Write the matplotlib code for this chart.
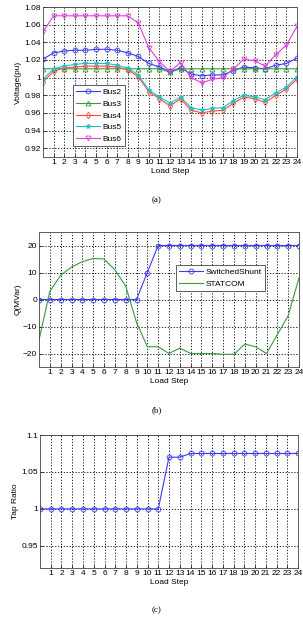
import numpy as np
import matplotlib.pyplot as plt

# Load steps
steps = np.arange(25)

# (a) bus voltages (pu)
bus2 = [1.021, 1.028, 1.030, 1.031, 1.031, 1.032, 1.032, 1.031, 1.028, 1.024, 1.016, 1.012, 1.007,
        1.011, 1.004, 1.002, 1.003, 1.003, 1.008, 1.012, 1.011, 1.010, 1.014, 1.016, 1.022]
bus3 = [1.010, 1.010, 1.010, 1.010, 1.010, 1.010, 1.010, 1.010, 1.010, 1.010, 1.010, 1.010, 1.006,
        1.010, 1.010, 1.010, 1.010, 1.010, 1.010, 1.010, 1.010, 1.010, 1.010, 1.010, 1.010]
bus4 = [0.995, 1.007, 1.011, 1.012, 1.013, 1.013, 1.013, 1.012, 1.009, 1.001, 0.984, 0.976, 0.968,
        0.976, 0.963, 0.960, 0.962, 0.963, 0.971, 0.978, 0.976, 0.972, 0.980, 0.987, 0.998]
bus5 = [0.998, 1.010, 1.013, 1.015, 1.016, 1.016, 1.016, 1.014, 1.011, 1.003, 0.986, 0.978, 0.971,
        0.978, 0.966, 0.963, 0.965, 0.966, 0.974, 0.980, 0.978, 0.975, 0.983, 0.989, 1.001]
bus6 = [1.052, 1.070, 1.070, 1.070, 1.070, 1.070, 1.070, 1.070, 1.070, 1.062, 1.034, 1.018, 1.007,
        1.017, 1.000, 0.994, 0.998, 1.000, 1.010, 1.021, 1.019, 1.013, 1.026, 1.037, 1.058]

# (b) reactive power (MVar)
shunt = [0, 0, 0, 0, 0, 0, 0, 0, 0, 0, 10, 20, 20, 20, 20, 20, 20, 20, 20, 20, 20, 20, 20, 20, 20]
statcom = [-15, 3, 9, 12, 14, 15.2, 15, 11, 5, -8.5, -17.5, -17.5, -20, -18, -20, -20, -20, -20.3,
           -20.3, -16.5, -17.5, -20, -13, -6, 8]

# (c) transformer tap ratio
tap = [1.0, 1.0, 1.0, 1.0, 1.0, 1.0, 1.0, 1.0, 1.0, 1.0, 1.0, 1.0, 1.07, 1.07, 1.075, 1.075, 1.075,
       1.075, 1.075, 1.075, 1.075, 1.075, 1.075, 1.075, 1.075]

plt.rcParams['font.family'] = ['Liberation Sans', 'DejaVu Sans']
fs = 6
W, H = 303, 619

fig = plt.figure(figsize=(W / 100, H / 100), dpi=100)


def make_axes(left, top, right, bottom):
    ax = fig.add_axes([left / W, 1 - bottom / H, (right - left) / W, (bottom - top) / H])
    ax.set_xlim(0, 24)
    ax.set_xticks(range(1, 25))
    ax.tick_params(labelsize=fs, length=2, width=0.5, pad=1.5, direction='in')
    ax.grid(True, linestyle=(0, (1.5, 2)), color='black', linewidth=0.6)
    for s in ax.spines.values():
        s.set_linewidth(0.6)
        s.set_color('#444444')
    ax.set_xlabel('Load Step', fontsize=fs, labelpad=1.5)
    return ax


def mlab_fmt(vals):
    return [('%g' % v) for v in vals]


def boxed_legend(ax, anchor, loc):
    leg = ax.legend(fontsize=fs, loc=loc, bbox_to_anchor=anchor, fancybox=False,
                    edgecolor='#444444', handlelength=2.8, handletextpad=0.3,
                    borderpad=0.4, labelspacing=0.45, borderaxespad=0, framealpha=1)
    leg.get_frame().set_linewidth(0.6)
    return leg


# (a)
ax1 = make_axes(43, 7, 297, 157)
mk = dict(markersize=3.5, linewidth=0.8, markeredgewidth=0.6)
ax1.plot(steps, bus2, color='#3a3aff', marker='o', mfc='none', label='Bus2', **mk)
ax1.plot(steps, bus3, color='#3a9a3a', marker='^', mfc='none', label='Bus3', **mk)
ax1.plot(steps, bus4, color='#ff4a3a', marker='d', mfc='none', label='Bus4', **mk)
ax1.plot(steps, bus5, color='#20c0c0', marker='*', label='Bus5', **mk)
ax1.plot(steps, bus6, color='#e040e0', marker='v', mfc='none', label='Bus6', **mk)
ax1.set_ylim(0.91, 1.08)
yt = np.round(np.arange(0.92, 1.081, 0.02), 2)
ax1.set_yticks(yt)
ax1.set_yticklabels(mlab_fmt(yt))
ax1.set_ylabel('Voltage(pu)', fontsize=fs, labelpad=2)
boxed_legend(ax1, ((73 - 43) / 254, (157 - 146) / 150), 'lower left')
fig.text(157 / W, 1 - 200 / H, '(a)', fontsize=6.5, family='Liberation Serif', ha='center', va='center')

# (b)
ax2 = make_axes(39, 232, 299, 367)
ax2.plot(steps, shunt, color='#3a3aff', marker='o', mfc='none', label='SwitchedShunt', **mk)
ax2.plot(steps, statcom, color='#3a9a3a', linewidth=0.8, label='STATCOM')
ax2.set_ylim(-25, 25)
ax2.set_yticks([-20, -10, 0, 10, 20])
ax2.set_ylabel('Q(MVar)', fontsize=fs, labelpad=1)
boxed_legend(ax2, ((176 - 39) / 260, (367 - 265) / 135), 'upper left')
fig.text(157 / W, 1 - 410 / H, '(b)', fontsize=6.5, family='Liberation Serif', ha='center', va='center')

# (c)
ax3 = make_axes(40, 435, 298, 568)
ax3.plot(steps, tap, color='#3a3aff', marker='o', mfc='none', **mk)
ax3.set_ylim(0.92, 1.1)
yt3 = [0.95, 1.0, 1.05, 1.1]
ax3.set_yticks(yt3)
ax3.set_yticklabels(mlab_fmt(yt3))
ax3.set_ylabel('Tap Ratio', fontsize=fs, labelpad=2)
fig.text(157 / W, 1 - 610 / H, '(c)', fontsize=6.5, family='Liberation Serif', ha='center', va='center')

fig.savefig('out.png', dpi=100)
